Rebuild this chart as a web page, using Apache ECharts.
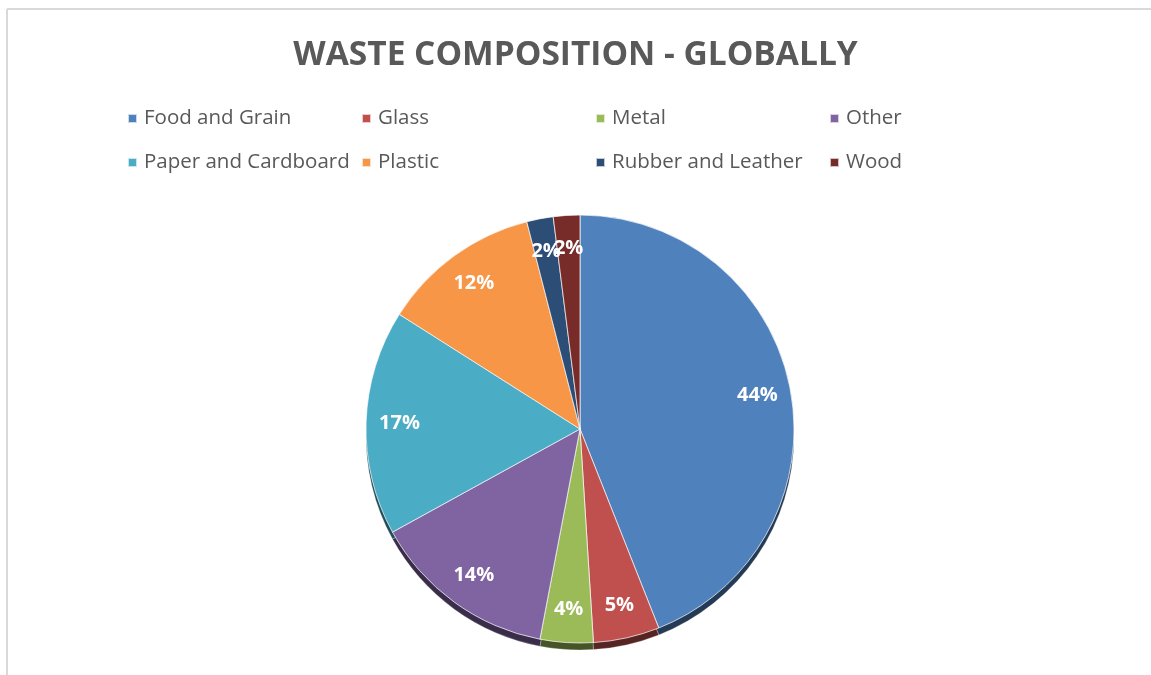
<!DOCTYPE html>
<html>
<head>
<meta charset="utf-8">
<script src="https://cdn.jsdelivr.net/npm/echarts@6/dist/echarts.min.js"></script>
<style>
html,body{margin:0;padding:0;background:#fff;}
#chart{width:1151px;height:675px;}
</style>
</head>
<body>
<div id="chart"></div>
<script>
const categories = ['Food and Grain','Glass','Metal','Other','Paper and Cardboard','Plastic','Rubber and Leather','Wood'];
const values = [44, 5, 4, 14, 17, 12, 2, 2];
const colors = ['#4F81BD','#C0504D','#9BBB59','#8064A2','#4BACC6','#F79646','#2C4D75','#772C2A'];
const legendColumns = [
  ['Food and Grain','Paper and Cardboard'],
  ['Glass','Plastic'],
  ['Metal','Rubber and Leather'],
  ['Other','Wood']
];

function darken(hex, f){
  const n = parseInt(hex.slice(1),16);
  const r = Math.round(((n>>16)&255)*f), g = Math.round(((n>>8)&255)*f), b = Math.round((n&255)*f);
  return 'rgb('+r+','+g+','+b+')';
}

const FONT = '"Open Sans", sans-serif';
const cx = 580, cy = 429, R = 214;

const chart = echarts.init(document.getElementById('chart'), null, {renderer:'canvas'});

const mainData = categories.map((c,i)=>({name:c, value:values[i], itemStyle:{color:colors[i]}}));
const depthData = categories.map((c,i)=>({name:c+' ', value:values[i], itemStyle:{color:darken(colors[i],0.45)}}));
const labelData = categories.map((c,i)=>({name:c, value:values[i]}));

const legends = legendColumns.map((col,k)=>({
  orient:'vertical',
  left: 127 + k*234,
  top: 108,
  padding: 0,
  itemGap: 23,
  itemWidth: 9,
  itemHeight: 9,
  icon: 'rect',
  selectedMode: false,
  data: col,
  textStyle:{fontFamily:FONT, fontSize:20.5, color:'#595959', padding:[0,0,0,2]}
}));

chart.setOption({
  backgroundColor:'#ffffff',
  animation:false,
  color: colors,
  title:{
    text:'WASTE COMPOSITION - GLOBALLY',
    left:'center',
    top: 33,
    itemGap: 0,
    textStyle:{fontFamily:FONT, fontWeight:'bold', fontSize:33.5, color:'#595959'}
  },
  legend: legends,
  graphic:[
    {type:'line', shape:{x1:7,y1:9,x2:1151,y2:9}, style:{stroke:'#d9d9d9', lineWidth:2}, silent:true},
    {type:'line', shape:{x1:7,y1:9,x2:7,y2:675}, style:{stroke:'#d9d9d9', lineWidth:2}, silent:true}
  ],
  series:[
    {
      type:'pie', name:'depth', silent:true, z:1,
      center:[cx, cy+7], radius:[0, R],
      startAngle:90, clockwise:true,
      label:{show:false}, labelLine:{show:false},
      itemStyle:{borderColor:'rgba(255,255,255,0.5)', borderWidth:0.5},
      data: depthData
    },
    {
      type:'pie', name:'Waste', z:2,
      center:[cx, cy], radius:[0, R],
      startAngle:90, clockwise:true,
      label:{show:false}, labelLine:{show:false},
      itemStyle:{borderColor:'rgba(255,255,255,0.7)', borderWidth:1},
      data: mainData
    },
    {
      type:'pie', name:'labels', silent:true, z:3,
      center:[cx, cy], radius:[R*0.66, R],
      startAngle:90, clockwise:true,
      avoidLabelOverlap:false,
      itemStyle:{color:'rgba(0,0,0,0)'},
      labelLine:{show:false},
      labelLayout:{hideOverlap:false},
      label:{show:true, position:'inside', formatter:'{d}%', fontFamily:FONT, fontWeight:'bold', fontSize:20, color:'#ffffff'},
      data: labelData
    }
  ]
});
</script>
</body>
</html>
